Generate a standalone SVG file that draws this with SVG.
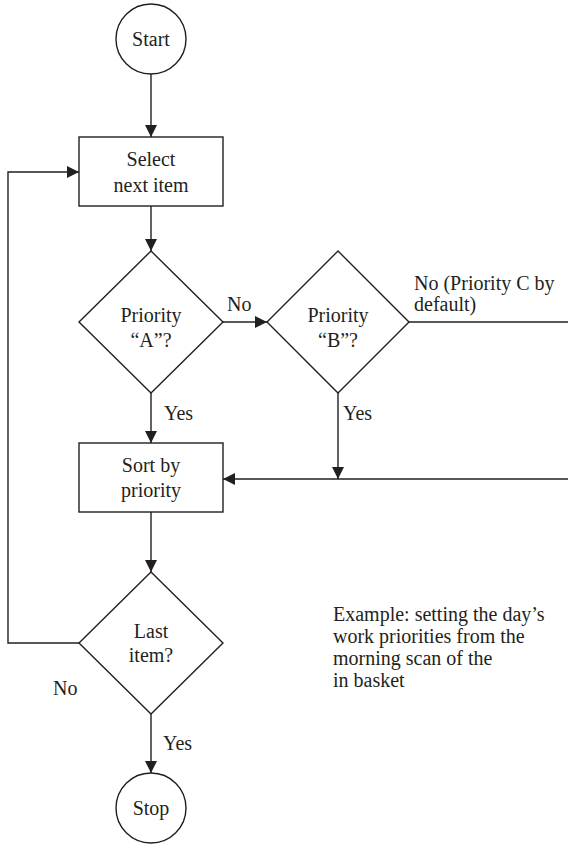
<svg xmlns="http://www.w3.org/2000/svg" width="568" height="846" viewBox="0 0 568 846">
  <defs>
    <marker id="arrow" markerUnits="userSpaceOnUse" markerWidth="12" markerHeight="12" refX="12" refY="6" orient="auto">
      <path d="M0,0 L12,6 L0,12 Z" fill="#231f20"/>
    </marker>
    <style>
      .shape { fill: #ffffff; stroke: #231f20; stroke-width: 1.4; }
      .edge { fill: none; stroke: #231f20; stroke-width: 1.4; }
      .edge.arrow { marker-end: url(#arrow); }
      .c { text-anchor: middle; }
    </style>
  </defs>
  <rect width="568" height="846" fill="#ffffff"/>

  <g font-family="Liberation Serif, DejaVu Serif, serif" font-size="20" fill="#231f20">
    <!-- connectors -->
    <g id="connectors">
      <path class="edge arrow" d="M151,74 V137"/>
      <path class="edge arrow" d="M151,206 V251"/>
      <path class="edge arrow" d="M223,322 H267"/>
      <path class="edge arrow" d="M151,393 V443"/>
      <path class="edge arrow" d="M338,393 V479"/>
      <path class="edge" d="M409,322 H568"/>
      <path class="edge arrow" d="M568,479 H223"/>
      <path class="edge arrow" d="M151,512 V572"/>
      <path class="edge arrow" d="M79,643 H8 V172 H79"/>
      <path class="edge arrow" d="M151,714 V773"/>
      <text x="227" y="311">No</text>
      <text x="164" y="420">Yes</text>
      <text x="343" y="420">Yes</text>
      <text x="414" y="290">No (Priority C by</text>
      <text x="414" y="311">default)</text>
      <text x="53" y="695">No</text>
      <text x="163" y="750">Yes</text>
    </g>

    <!-- nodes -->
    <g id="start">
      <circle class="shape" cx="151" cy="39" r="35"/>
      <text class="c" x="151" y="46">Start</text>
    </g>
    <g id="select">
      <rect class="shape" x="79" y="137" width="144" height="69"/>
      <text class="c" x="151" y="166">Select</text>
      <text class="c" x="151" y="192">next item</text>
    </g>
    <g id="priority-a">
      <polygon class="shape" points="151,251 223,322 151,393 79,322"/>
      <text class="c" x="151" y="322">Priority</text>
      <text class="c" x="151" y="347">“A”?</text>
    </g>
    <g id="priority-b">
      <polygon class="shape" points="338,251 409,322 338,393 267,322"/>
      <text class="c" x="338" y="322">Priority</text>
      <text class="c" x="338" y="347">“B”?</text>
    </g>
    <g id="sort">
      <rect class="shape" x="79" y="443" width="144" height="69"/>
      <text class="c" x="151" y="472">Sort by</text>
      <text class="c" x="151" y="497">priority</text>
    </g>
    <g id="last-item">
      <polygon class="shape" points="151,572 223,643 151,714 79,643"/>
      <text class="c" x="151" y="638">Last</text>
      <text class="c" x="151" y="662">item?</text>
    </g>
    <g id="stop">
      <circle class="shape" cx="151" cy="808" r="35"/>
      <text class="c" x="151" y="815">Stop</text>
    </g>

    <!-- note -->
    <g id="note">
      <text x="333" y="621">Example: setting the day’s</text>
      <text x="333" y="643">work priorities from the</text>
      <text x="333" y="665">morning scan of the</text>
      <text x="333" y="687">in basket</text>
    </g>
  </g>
</svg>
